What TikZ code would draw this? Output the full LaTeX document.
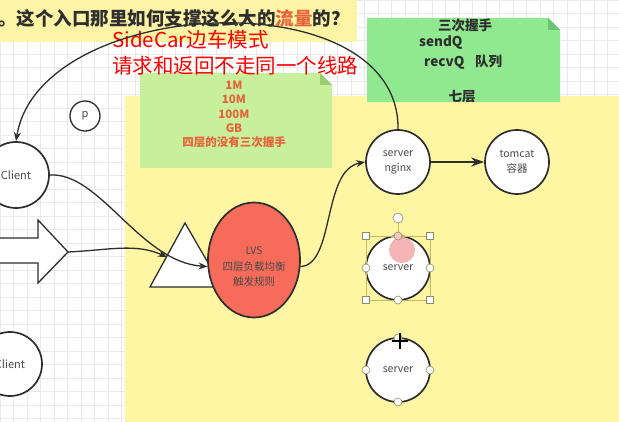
\documentclass[tikz,border=0pt]{standalone}
\usepackage{fontspec}
\setmainfont{Noto Sans CJK SC}
\usetikzlibrary{shapes.geometric,arrows.meta}
\definecolor{ink}{HTML}{2E2E2E}
\definecolor{txtg}{HTML}{4A4A4A}
\definecolor{gridc}{HTML}{E9E9E9}
\definecolor{bannerc}{HTML}{FDF4A6}
\definecolor{yellowc}{HTML}{FFF6A3}
\definecolor{noteA}{HTML}{C8F09C}
\definecolor{noteAf}{HTML}{9CCB72}
\definecolor{noteB}{HTML}{90E890}
\definecolor{noteBf}{HTML}{6CC46E}
\definecolor{orangec}{HTML}{E8623A}
\definecolor{lvsc}{HTML}{F76B5B}
\definecolor{handc}{HTML}{8E8E6A}
\definecolor{selc}{HTML}{C2B86A}
\definecolor{pinkc}{HTML}{F4A3A3}
\begin{document}
\begin{tikzpicture}[x=1pt,y=-1pt,
  circ/.style={circle,draw=ink,line width=1.7pt,fill=white,minimum size=64pt,inner sep=0pt,
    font=\fontsize{10.5}{15}\selectfont,text=txtg,align=center},
  conn/.style={draw=ink,line width=1.3pt,-{Stealth[length=9pt,width=7pt]}},
  hnd/.style={circle,draw=handc,fill=white,minimum size=8pt,inner sep=0pt,line width=0.6pt},
  sqh/.style={rectangle,draw=handc,fill=white,minimum size=7pt,inner sep=0pt,line width=0.6pt},
  notetxt/.style={font=\bfseries\fontsize{13.5}{16}\selectfont,text=ink,inner sep=0pt},
  redtxt/.style={font=\fontsize{20.5}{24}\selectfont,text=red,inner sep=0pt,anchor=west}]
\useasboundingbox (0,0) rectangle (619,422);
\fill[white] (0,0) rectangle (619,422);
\foreach \i in {0,13.5,...,620} \draw[gridc,line width=0.5pt] (\i,0) -- (\i,422);
\foreach \j in {0,13.5,...,423} \draw[gridc,line width=0.5pt] (0,\j) -- (619,\j);
% yellow region and banner
\fill[yellowc] (125,96) rectangle (619,422);
\fill[bannerc] (0,0) rectangle (357,42);
\node[font=\bfseries\fontsize{18.5}{21}\selectfont,text=ink,anchor=west,inner sep=0pt] (title) at (-2,18)
  {。这个入口那里如何支撑这么大的{\color{orangec}流量}的？};
% notes
\fill[noteA] (140,73) -- (320,73) -- (332,85) -- (332,168) -- (140,168) -- cycle;
\fill[noteAf] (320,73) -- (332,85) -- (320,85) -- cycle;
\node[font=\bfseries\fontsize{11.5}{14.3}\selectfont,text=orangec,align=center,inner sep=0pt] (notea) at (234,114.5)
  {1M\\10M\\100M\\GB\\四层的没有三次握手};
\fill[noteB] (367,18) -- (548,18) -- (560,30) -- (560,102) -- (367,102) -- cycle;
\fill[noteBf] (548,18) -- (560,30) -- (548,30) -- cycle;
\node[notetxt] (nb1) at (465,25) {三次握手};
\node[notetxt,anchor=west] (nb2) at (419,43) {sendQ};
\node[notetxt,anchor=west] (nb3) at (424,62) {recvQ\hspace{0.8em}队列};
\node[notetxt] (nb4) at (462,97) {七层};
% red text
\node[redtxt] (red1) at (112,40) {SideCar边车模式};
\node[redtxt] (red2) at (112,66) {请求和返回不走同一个线路};
% left shapes
\node[circle,draw=ink,line width=1.3pt,fill=white,minimum size=30pt,inner sep=0pt,
  font=\fontsize{11}{13}\selectfont,text=txtg] (p) at (85,116) {p};
\node[circ,minimum size=66pt,font=\fontsize{11}{13}\selectfont] (client1) at (16,175) {Client};
\node[circ,minimum size=64pt,font=\fontsize{11}{13}\selectfont] (client2) at (10,364) {Client};
\draw[ink,line width=1.3pt,fill=white] (-3,238) -- (38,238) -- (38,220) -- (68,252) -- (38,283) -- (38,263) -- (-3,263) -- cycle;
\coordinate (bigtip) at (68,252);
\draw[ink,line width=1.3pt,fill=white] (150,287) -- (185,223) -- (222,287) -- cycle;
\coordinate (triin) at (167,257);
\node[ellipse,draw=ink,line width=1.7pt,fill=lvsc,minimum width=92pt,minimum height=115pt,inner sep=0pt] (lvs) at (254,260) {};
\node[font=\fontsize{10.5}{15.5}\selectfont,text=txtg,align=center,inner sep=0pt] (lvstxt) at (254,267) {LVS\\四层负载均衡\\触发规则};
% servers
\node[circ] (nginx) at (398,162) {server\\nginx};
\node[circ] (tomcat) at (517,162) {tomcat\\容器};
\node[circ] (srv1) at (398,268) {server};
\node[circ] (srv2) at (398,370) {server};
% connectors
\draw[conn] (nginx.north) .. controls (400,-22) and (40,-5) .. (client1.north);
\draw[conn] (client1.east) .. controls (100,172) and (140,262) .. (lvs.188);
\draw[conn] (bigtip) .. controls (110,250) and (135,243) .. (triin);
\draw[conn] (lvs.-8) .. controls (335,265) and (322,170) .. (nginx.west);
\draw[draw=ink,line width=2.2pt,-{Stealth[length=13pt,width=9pt]}] (nginx.east) -- (tomcat.west);
% selection of srv1
\fill[pinkc,opacity=0.8] (402,250) circle (13);
\draw[selc,line width=0.7pt] (366,236) rectangle (430,300);
\draw[selc,line width=0.8pt] (398,223) -- (398,236);
\node[hnd,minimum size=10pt] (rot) at (398,218) {};
\node[sqh] (s1) at (366,236) {};
\node[sqh] (s2) at (430,236) {};
\node[sqh] (s3) at (366,300) {};
\node[sqh] (s4) at (430,300) {};
\node[hnd,fill=pinkc!60] (h1) at (398,236) {};
\node[hnd] (h2) at (366,268) {};
\node[hnd] (h3) at (430,268) {};
\node[hnd] (h4) at (398,300) {};
% handles of srv2
\node[hnd] (k1) at (366,370) {};
\node[hnd] (k2) at (430,370) {};
\node[hnd] (k3) at (398,402) {};
\node[hnd] (k4) at (398,338) {};
\draw[black,line width=2.2pt] (400,333) -- (400,349) (392,341) -- (408,341);
\coordinate (cursor) at (400,341);
\end{tikzpicture}
\end{document}
